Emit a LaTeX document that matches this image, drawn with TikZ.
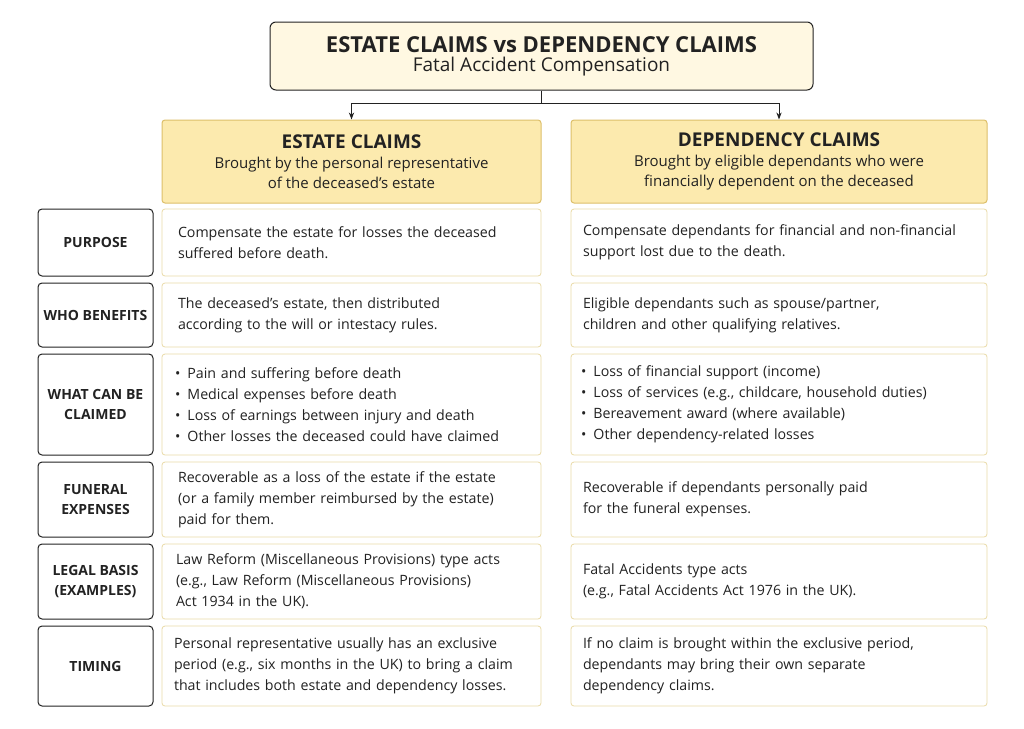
\documentclass[tikz,border=0pt]{standalone}
\usepackage{fontspec}
\setmainfont{Open Sans}
\usetikzlibrary{positioning,arrows.meta}
\definecolor{cream}{HTML}{FFF8E2}
\definecolor{headfill}{HTML}{FCEAAE}
\definecolor{gold}{HTML}{DDBF6A}
\definecolor{paleline}{HTML}{EADBA8}
\definecolor{ink}{HTML}{222222}
\tikzset{
  lbl/.style={draw=ink, line width=1pt, rounded corners=4pt, fill=white, minimum width=115pt,
    align=center, font=\fontsize{14}{20}\selectfont\bfseries, text=ink},
  cell/.style={draw=paleline, line width=0.8pt, rounded corners=3pt, fill=white, align=left,
    inner xsep=16pt, font=\fontsize{14.2}{21}\selectfont, text=ink},
  leftcell/.style={cell, minimum width=379pt, text width=347pt},
  rightcell/.style={cell, minimum width=416pt, inner xsep=12pt, text width=392pt},
  head/.style={draw=gold, line width=1pt, rounded corners=3pt, fill=headfill, minimum height=83pt,
    align=center, font=\fontsize{15}{20}\selectfont, text=ink},
  arr/.style={-{Stealth[length=7pt]}, line width=1pt, draw=ink}
}
\begin{document}
\begin{tikzpicture}[x=1pt,y=-1pt]
  \useasboundingbox[fill=white] (0,0) rectangle (1024,728);
  % title
  \node[draw=ink, line width=1pt, rounded corners=6pt, fill=cream, minimum width=543pt, minimum height=68pt, align=center, text=ink] (title) at (541.5,56)
    {{\fontsize{22}{27}\selectfont\bfseries ESTATE CLAIMS vs DEPENDENCY CLAIMS}\\[3pt]{\fontsize{19}{24}\selectfont Fatal Accident Compensation}};
  % column heads
  \node[head, minimum width=379pt] (hestate) at (351.5,161.5)
    {{\fontsize{19}{26}\selectfont\bfseries ESTATE CLAIMS}\\Brought by the personal representative\\of the deceased’s estate};
  \node[head, minimum width=416pt] (hdep) at (779,161.5)
    {{\fontsize{19}{26}\selectfont\bfseries DEPENDENCY CLAIMS}\\Brought by eligible dependants who were\\financially dependent on the deceased};
  \coordinate (split) at (541.5,103);
  \coordinate (sl) at (hestate.north |- split);
  \coordinate (sr) at (hdep.north |- split);
  \draw[line width=1pt, ink] (title.south) -- (split);
  \draw[line width=1pt, ink] (sl) -- (sr);
  \draw[arr] (sl) -- (hestate.north);
  \draw[arr] (sr) -- (hdep.north);

  % purpose
  \node[lbl, minimum height=67pt] (lpurpose) at (95.5,242.5) {PURPOSE};
  \node[leftcell, minimum height=67pt] (epurpose) at (351.5,242.5) {Compensate the estate for losses the deceased\\suffered before death.};
  \node[rightcell, minimum height=67pt] (dpurpose) at (779,242.5) {Compensate dependants for financial and non-financial\\support lost due to the death.};

  % who benefits
  \node[lbl, minimum height=64pt] (lwho) at (95.5,315) {WHO BENEFITS};
  \node[leftcell, minimum height=64pt] (ewho) at (351.5,315) {The deceased’s estate, then distributed\\according to the will or intestacy rules.};
  \node[rightcell, minimum height=64pt] (dwho) at (779,315) {Eligible dependants such as spouse/partner,\\children and other qualifying relatives.};

  % what can be claimed
  \node[lbl, minimum height=101pt] (lwhat) at (95.5,404.5) {WHAT CAN BE\\CLAIMED};
  \node[leftcell, minimum height=101pt, inner xsep=13pt, text width=353pt] (ewhat) at (351.5,404.5)
    {\textbullet\enspace Pain and suffering before death\\\textbullet\enspace Medical expenses before death\\\textbullet\enspace Loss of earnings between injury and death\\\textbullet\enspace Other losses the deceased could have claimed};
  \node[rightcell, minimum height=101pt, inner xsep=10pt, text width=396pt] (dwhat) at (779,404.5)
    {\textbullet\enspace Loss of financial support (income)\\\textbullet\enspace Loss of services (e.g., childcare, household duties)\\\textbullet\enspace Bereavement award (where available)\\\textbullet\enspace Other dependency-related losses};

  % funeral expenses
  \node[lbl, minimum height=75pt] (lfuneral) at (95.5,499.5) {FUNERAL\\EXPENSES};
  \node[leftcell, minimum height=75pt] (efuneral) at (351.5,499.5) {Recoverable as a loss of the estate if the estate\\(or a family member reimbursed by the estate)\\paid for them.};
  \node[rightcell, minimum height=75pt] (dfuneral) at (779,499.5) {Recoverable if dependants personally paid\\for the funeral expenses.};

  % legal basis
  \node[lbl, minimum height=75pt] (llegal) at (95.5,581.5) {LEGAL BASIS\\(EXAMPLES)};
  \node[leftcell, minimum height=75pt, inner xsep=14pt, text width=351pt] (elegal) at (351.5,581.5) {Law Reform (Miscellaneous Provisions) type acts\\(e.g., Law Reform (Miscellaneous Provisions)\\Act 1934 in the UK).};
  \node[rightcell, minimum height=75pt] (dlegal) at (779,581.5) {Fatal Accidents type acts\\(e.g., Fatal Accidents Act 1976 in the UK).};

  % timing
  \node[lbl, minimum height=80pt] (ltiming) at (95.5,666) {TIMING};
  \node[leftcell, minimum height=80pt, inner xsep=12pt, text width=355pt] (etiming) at (351.5,666) {Personal representative usually has an exclusive\\period (e.g., six months in the UK) to bring a claim\\that includes both estate and dependency losses.};
  \node[rightcell, minimum height=80pt] (dtiming) at (779,666) {If no claim is brought within the exclusive period,\\dependants may bring their own separate\\dependency claims.};
\end{tikzpicture}
\end{document}
